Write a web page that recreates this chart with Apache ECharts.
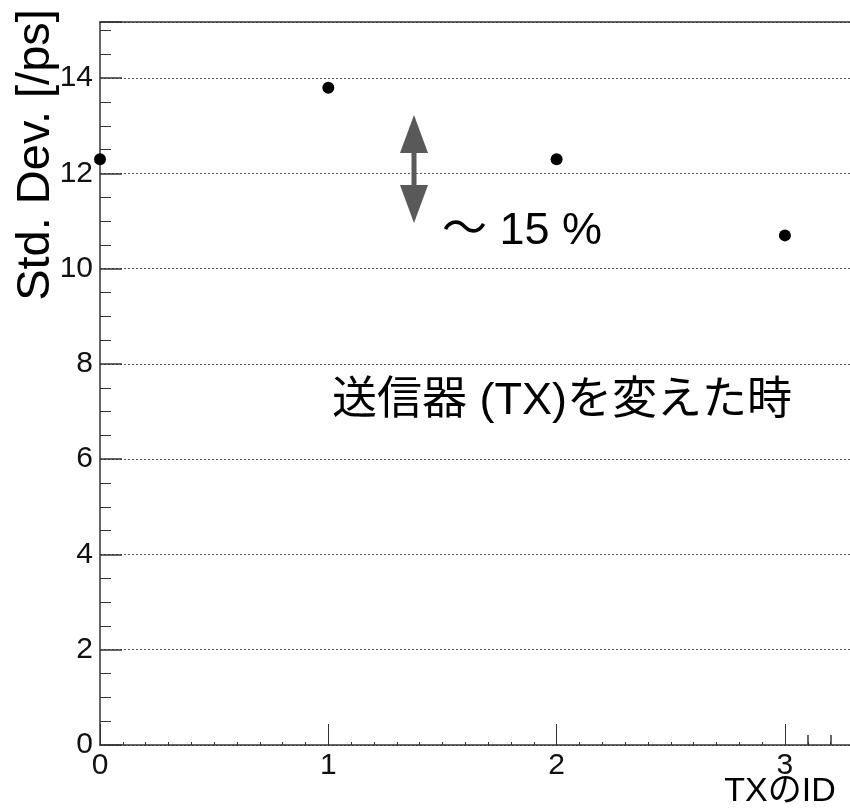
<!DOCTYPE html>
<html>
<head>
<meta charset="utf-8">
<script src="https://cdn.jsdelivr.net/npm/echarts@6/dist/echarts.min.js"></script>
<style>
  html, body { margin: 0; padding: 0; background: #fff; }
  #main { width: 850px; height: 809px; }
</style>
</head>
<body>
<div id="main"></div>
<script>
var txIds = [0, 1, 2, 3];
var stdDev = [12.3, 13.8, 12.3, 10.7];
var xTickLabels = ['0', '1', '2', '3'];
var yTickLabels = ['0', '2', '4', '6', '8', '10', '12', '14'];
// leftover mid-size ticks past the last ID
var extraTicks = [3.1, 3.2];

var dom = document.getElementById('main');
var myChart = echarts.init(dom);

var font = '"Liberation Sans", Arial, sans-serif';
var cjkFont = '"Liberation Sans", "Noto Sans CJK JP", sans-serif';
var axisColor = '#333';

option = {
    backgroundColor: '#fff',
    animation: false,
    grid: { left: 100, right: 0, top: 22, bottom: 64 },
    xAxis: [
        {
            type: 'value',
            min: 0,
            max: 3.285,
            interval: 1,
            axisLine: { show: true, lineStyle: { color: axisColor, width: 1.5 } },
            axisTick: { show: true, inside: true, length: 21, lineStyle: { color: axisColor } },
            minorTick: { show: true, splitNumber: 10, length: 3, lineStyle: { color: axisColor } },
            axisLabel: {
                margin: 6,
                fontSize: 30,
                color: '#111',
                fontFamily: font,
                showMaxLabel: false,
                formatter: function (v) {
                    var i = txIds.indexOf(v);
                    return i >= 0 ? xTickLabels[i] : '';
                }
            },
            splitLine: { show: false }
        },
        {
            type: 'value',
            position: 'top',
            min: 0,
            max: 3.285,
            axisLine: { show: true, lineStyle: { color: axisColor, width: 1.5 } },
            axisTick: { show: false },
            axisLabel: { show: false },
            splitLine: { show: false }
        }
    ],
    yAxis: {
        type: 'value',
        min: 0,
        max: 15.18,
        interval: 2,
        axisLine: { show: true, lineStyle: { color: axisColor, width: 1.5 } },
        axisTick: { show: true, inside: true, length: 22, lineStyle: { color: axisColor, width: 1.5 } },
        minorTick: { show: true, splitNumber: 4, length: 11, lineStyle: { color: axisColor } },
        axisLabel: {
            margin: 7,
            fontSize: 30,
            color: '#111',
            fontFamily: font,
            showMaxLabel: false,
            formatter: function (v) {
                var i = yTickLabels.indexOf(String(v));
                return i >= 0 ? yTickLabels[i] : '';
            }
        },
        splitLine: {
            show: true,
            lineStyle: { color: '#555', width: 1, type: [2, 2] }
        }
    },
    series: [
        {
            name: 'Std. Dev.',
            type: 'scatter',
            symbol: 'circle',
            symbolSize: 12,
            itemStyle: { color: '#000', opacity: 1 },
            data: txIds.map(function (id, i) { return [id, stdDev[i]]; }),
            markLine: {
                silent: true,
                symbol: 'none',
                label: { show: false },
                lineStyle: { color: axisColor, width: 1.5, type: 'solid' },
                data: extraTicks.map(function (t) {
                    return [{ coord: [t, 0] }, { coord: [t, 0.21] }];
                })
            }
        }
    ],
    graphic: [
        // y axis title
        {
            type: 'text',
            x: 36, y: 155,
            rotation: Math.PI / 2,
            style: {
                text: 'Std. Dev. [/ps]',
                fontSize: 47,
                fontFamily: font,
                fill: '#000',
                align: 'center',
                verticalAlign: 'middle'
            }
        },
        // x axis title
        {
            type: 'text',
            x: 780, y: 792,
            style: {
                text: 'TXのID',
                fontSize: 34,
                fontFamily: cjkFont,
                fill: '#000',
                align: 'center',
                verticalAlign: 'middle'
            }
        },
        // double arrow
        {
            type: 'rect',
            shape: { x: 411.5, y: 150, width: 5, height: 40 },
            style: { fill: '#595959' }
        },
        {
            type: 'polygon',
            shape: { points: [[414, 115], [400, 153], [428, 153]] },
            style: { fill: '#595959' }
        },
        {
            type: 'polygon',
            shape: { points: [[414, 223], [400, 185], [428, 185]] },
            style: { fill: '#595959' }
        },
        {
            type: 'text',
            x: 522, y: 232,
            style: {
                text: '〜 15 %',
                fontSize: 45,
                fontFamily: cjkFont,
                fill: '#000',
                align: 'center',
                verticalAlign: 'middle'
            }
        },
        {
            type: 'text',
            x: 562, y: 402,
            style: {
                text: '送信器 (TX)を変えた時',
                fontSize: 45,
                fontFamily: cjkFont,
                fill: '#000',
                align: 'center',
                verticalAlign: 'middle'
            }
        }
    ]
};

if (option && typeof option === "object") {
    myChart.setOption(option, true);
}

window.addEventListener("resize", function () {
    myChart.resize();
});
</script>
</body>
</html>
